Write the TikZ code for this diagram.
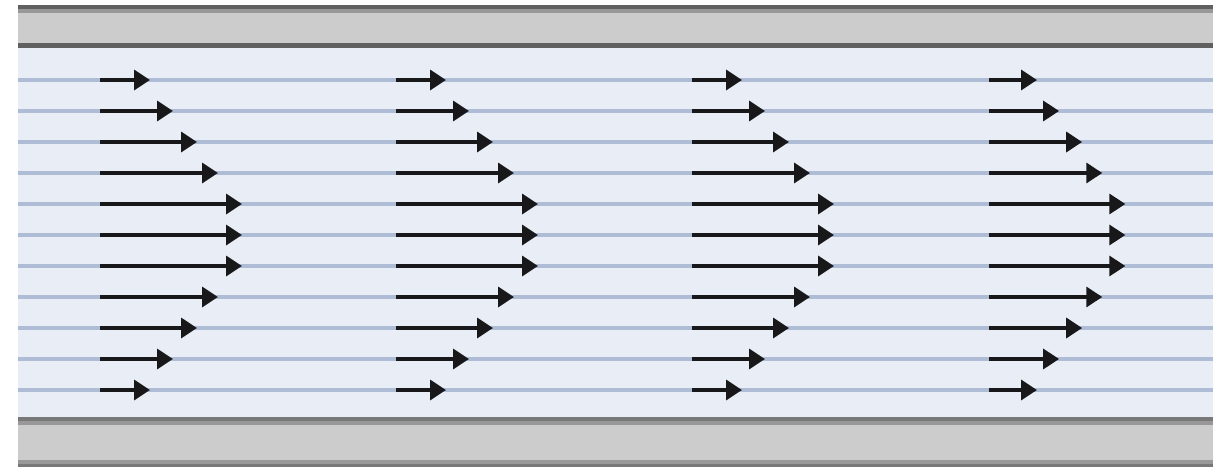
\documentclass[tikz,border=0pt]{standalone}
\usepackage{xcolor}
\usetikzlibrary{arrows.meta}
\definecolor{wallgray}{RGB}{204,204,204}
\definecolor{walldark}{RGB}{96,96,96}
\definecolor{wallmid}{RGB}{152,152,152}
\definecolor{fluidbg}{RGB}{233,237,245}
\definecolor{streamblue}{RGB}{174,188,214}
\definecolor{arrowblack}{RGB}{24,24,26}

\begin{document}
\begin{tikzpicture}[x=1pt,y=-1pt]
  \def\xl{18}
  \def\xr{1213}
  \def\dy{31}
  \useasboundingbox (0,0) rectangle (1228,466);

%fluid:
  \fill[fluidbg] (\xl,47) rectangle (\xr,419);
  \foreach \k in {0,...,10}
    \draw[streamblue,line width=4pt] (\xl,80+\dy*\k) -- (\xr,80+\dy*\k);

%walls:
  \fill[wallgray] (\xl,5) rectangle (\xr,46);
  \fill[wallgray] (\xl,417) rectangle (\xr,466);
  \draw[walldark,line width=4pt] (\xl,7) -- (\xr,7);
  \draw[wallmid,line width=4pt] (\xl,11) -- (\xr,11);
  \draw[walldark,line width=5pt] (\xl,45.5) -- (\xr,45.5);
  \draw[walldark!85,line width=4pt] (\xl,419) -- (\xr,419);
  \draw[wallmid,line width=4pt] (\xl,423) -- (\xr,423);
  \draw[wallmid,line width=4pt] (\xl,462) -- (\xr,462);
  \draw[walldark!85,line width=3pt] (\xl,465) -- (\xr,465);
%%%%%%

%velocity profiles:
  \foreach \x/\s in {100/1,396/1,692/1,989/0.96}
    \foreach \k/\u in {0/50,1/73,2/97,3/118,4/142,5/142,6/142,7/118,8/97,9/73,10/50}
      \draw[arrowblack,line width=3.5pt,-{Triangle[length=16pt,width=20pt]}] (\x,80+\dy*\k) -- ++(\s*\u,0);
\end{tikzpicture}
\end{document}
